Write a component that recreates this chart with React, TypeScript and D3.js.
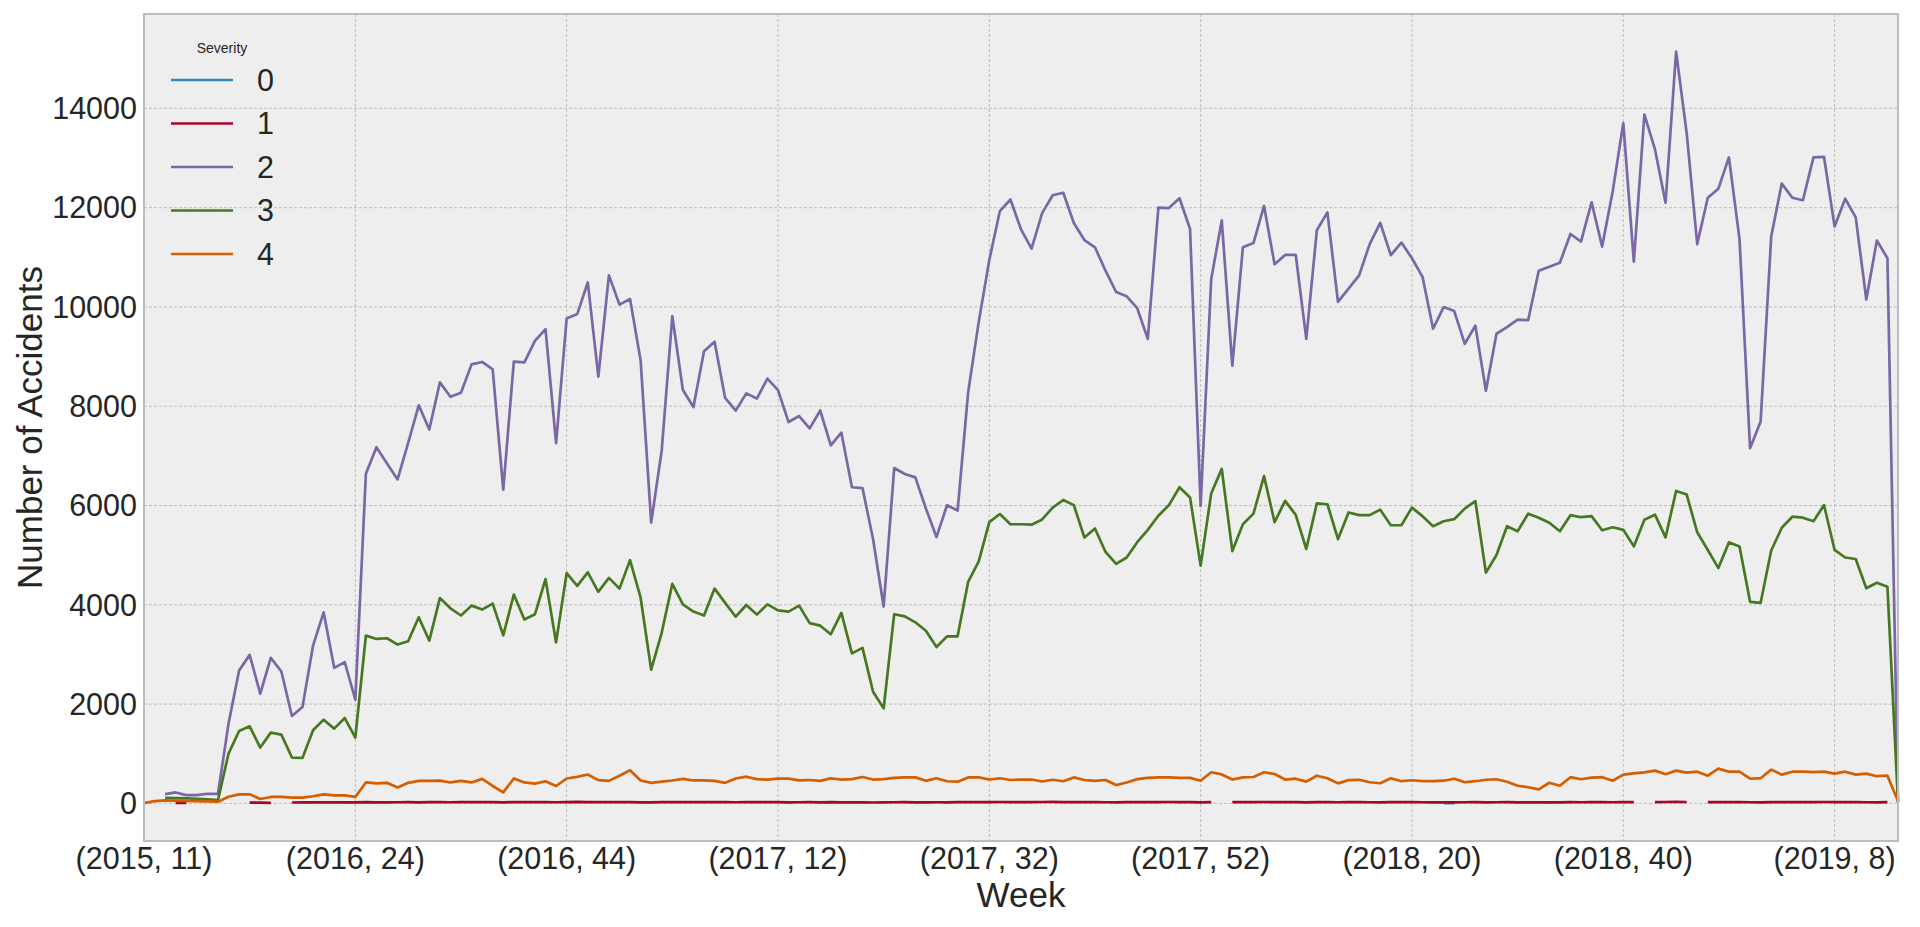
import React, { useEffect, useRef } from 'react';
import * as d3 from 'd3';

type V = number | null;

// x tick labels (every 20th week)
const tickWeeks = ['(2015, 11)', '(2016, 24)', '(2016, 44)', '(2017, 12)', '(2017, 32)', '(2017, 52)', '(2018, 20)', '(2018, 40)', '(2019, 8)'];
const tickEvery = 20;
const nWeeks = 167;

const severities = ['0', '1', '2', '3', '4'];
const colors = ['#348ABD', '#A60628', '#7A68A6', '#467821', '#D55E00'];

const sev0: V[] = [];
sev0[123] = 4;
sev0[124] = 6;

const sev1: V[] = [
 null, null, null, 12, 10, null, null, null, null, null, 14, 16, 12, null, 18, 20, 19, 22, 21, 20,
 22, 24, 21, 20, 23, 25, 22, 24, 26, 23, 25, 24, 27, 26, 22, 28, 25, 24, 26, 23,
 27, 29, 26, 25, 28, 24, 26, 22, 21, 24, 27, 25, 28, 26, 24, 25, 23, 26, 24, 25,
 27, 22, 23, 24, 21, 25, 20, 22, 19, 18, 21, 23, 24, 22, 20, 23, 22, 25, 26, 24,
 27, 28, 26, 25, 27, 28, 29, 27, 26, 25, 24, 23, 22, 24, 25, 26, 27, 28, 27, 26,
 22, 24, null, 25, 26, 27, 28, 26, 25, 24, 22, 27, 26, 23, 25, 24, 23, 22, 26, 25,
 24, 23, 22, 21, 20, 23, 24, 22, 23, 25, 21, 20, 19, 22, 21, 24, 23, 25, 24, 23,
 26, 25, null, 27, 28, 29, 28, null, 26, 27, 25, 26, 23, 22, 25, 26, 27, 26, 27, 28,
 25, 24, 24, 23, 22, 24, null,
];

const sev2: V[] = [
 null, null, 187, 221, 167, 167, 194, 194, 1607, 2678, 2992, 2209, 2932, 2657, 1761, 1941, 3180, 3849, 2731, 2845,
 2088, 6640, 7176, 6848, 6527, 7263, 8019, 7531, 8480, 8190, 8271, 8844, 8892, 8741, 6319, 8900, 8884, 9315, 9554, 7259,
 9769, 9856, 10494, 8597, 10637, 10048, 10159, 8924, 5657, 7115, 9816, 8327, 7984, 9107, 9299, 8167, 7912, 8260, 8155, 8558,
 8326, 7683, 7803, 7554, 7914, 7211, 7468, 6369, 6352, 5322, 3966, 6756, 6635, 6567, 5940, 5365, 6009, 5897, 8284, 9700,
 10945, 11932, 12164, 11563, 11176, 11889, 12249, 12301, 11691, 11348, 11202, 10730, 10301, 10215, 9975, 9357, 12000, 11992, 12189, 11571,
 5992, 10558, 11743, 8816, 11202, 11288, 12035, 10859, 11048, 11048, 9357, 11545, 11906, 10103, 10370, 10637, 11267, 11693, 11043, 11297,
 10982, 10607, 9561, 9998, 9917, 9257, 9622, 8313, 9460, 9592, 9744, 9734, 10729, 10810, 10891, 11470, 11317, 12109, 11216, 12332,
 13703, 10911, 13875, 13175, 12099, 15144, 13500, 11267, 12200, 12383, 13012, 11368, 7156, 7694, 11419, 12485, 12200, 12150, 13012, 13022,
 11622, 12180, 11804, 10150, 11338, 10982, 40,
];

const sev3: V[] = [
 null, null, 114, 107, 100, 94, 80, 67, 1004, 1459, 1553, 1125, 1426, 1386, 924, 917, 1473, 1687, 1506, 1720,
 1326, 3380, 3313, 3327, 3200, 3267, 3749, 3280, 4136, 3930, 3785, 3984, 3904, 4024, 3386, 4207, 3705, 3809, 4518, 3243,
 4637, 4382, 4653, 4263, 4542, 4327, 4900, 4143, 2693, 3442, 4422, 4008, 3864, 3785, 4327, 4040, 3761, 3996, 3803, 4009,
 3889, 3863, 3983, 3631, 3580, 3408, 3837, 3022, 3133, 2249, 1914, 3811, 3768, 3648, 3477, 3150, 3365, 3365, 4464, 4876,
 5665, 5829, 5623, 5623, 5614, 5720, 5958, 6112, 6009, 5356, 5537, 5065, 4824, 4953, 5262, 5511, 5794, 6009, 6369, 6163,
 4790, 6241, 6738, 5082, 5623, 5837, 6593, 5665, 6095, 5811, 5125, 6043, 6026, 5322, 5860, 5806, 5806, 5917, 5603, 5603,
 5958, 5786, 5583, 5684, 5725, 5938, 6090, 4649, 5004, 5583, 5481, 5836, 5755, 5654, 5481, 5806, 5765, 5786, 5501, 5562,
 5511, 5177, 5714, 5816, 5359, 6293, 6222, 5461, 5105, 4740, 5258, 5177, 4060, 4040, 5095, 5552, 5775, 5755, 5684, 6009,
 5105, 4953, 4923, 4334, 4446, 4365, 20,
];

const sev4: V[] = [
 5, 47, 60, 55, 50, 45, 40, 35, 134, 181, 184, 88, 130, 130, 117, 117, 144, 181, 161, 161,
 130, 422, 402, 415, 321, 415, 455, 455, 458, 422, 454, 422, 494, 351, 223, 502, 422, 398, 446, 351,
 502, 534, 582, 470, 454, 558, 669, 462, 414, 438, 462, 494, 462, 462, 454, 414, 502, 538, 489, 481,
 498, 498, 464, 472, 455, 506, 481, 489, 532, 481, 489, 515, 524, 524, 455, 506, 446, 438, 524, 524,
 481, 506, 472, 481, 481, 442, 476, 446, 524, 472, 455, 472, 369, 421, 489, 515, 524, 524, 515, 515,
 455, 627, 584, 481, 524, 532, 627, 592, 481, 498, 438, 558, 506, 403, 469, 477, 426, 406, 508, 447,
 467, 447, 447, 457, 497, 426, 447, 477, 487, 436, 355, 325, 284, 416, 355, 528, 487, 518, 528, 457,
 579, 604, 624, 660, 589, 660, 619, 639, 558, 700, 639, 639, 497, 508, 680, 579, 639, 639, 629, 639,
 599, 639, 579, 599, 548, 558, 50,
];

const series: V[][] = [sev0, sev1, sev2, sev3, sev4];
const yTicks = [0, 2000, 4000, 6000, 8000, 10000, 12000, 14000];

const W = 1920;
const H = 927;
const margin = { left: 144, right: 22, top: 14, bottom: 86 };
const FONT = '"Liberation Sans", Arial, sans-serif';
const INK = '#262626';

export default function App() {
 const svgRef = useRef<SVGSVGElement>(null);

 useEffect(() => {
 if (!svgRef.current) return;
 const svg = d3.select(svgRef.current);
 svg.selectAll('*').remove();

 const x0 = margin.left;
 const x1 = W - margin.right;
 const y0 = H - margin.bottom;
 const y1 = margin.top;

 const all = series.flatMap(s => s.filter((v): v is number => v != null));
 const lo = Math.min(0, d3.min(all) ?? 0);
 const hi = d3.max(all) ?? 1;
 const pad = (hi - lo) * 0.05;

 const x = d3.scaleLinear().domain([0, nWeeks - 1]).range([x0, x1]);
 const y = d3.scaleLinear().domain([lo - pad, hi + pad]).range([y0, y1]);

 // background
 svg.append('rect').attr('x', x0).attr('y', y1).attr('width', x1 - x0).attr('height', y0 - y1).attr('fill', '#eeeeee');

 // grid
 const grid = svg.append('g').attr('stroke', '#b2b2b2').attr('stroke-width', 0.8).attr('stroke-dasharray', '3,2');
 grid.selectAll('line.h').data(yTicks).enter().append('line')
 .attr('x1', x0).attr('x2', x1).attr('y1', d => y(d)).attr('y2', d => y(d));
 grid.selectAll('line.v').data(tickWeeks).enter().append('line')
 .attr('x1', (_, i) => x(i * tickEvery)).attr('x2', (_, i) => x(i * tickEvery)).attr('y1', y1).attr('y2', y0);

 // lines
 const line = d3.line<V>()
 .defined(d => d != null)
 .x((_, i) => x(i))
 .y(d => y(d as number));

 series.forEach((s, k) => {
 const full: V[] = d3.range(nWeeks).map(i => (s[i] === undefined ? null : s[i]));
 svg.append('path').datum(full)
 .attr('d', line)
 .attr('fill', 'none')
 .attr('stroke', colors[k])
 .attr('stroke-width', 2.7)
 .attr('stroke-linejoin', 'round');
 });

 // frame
 svg.append('rect').attr('x', x0).attr('y', y1).attr('width', x1 - x0).attr('height', y0 - y1)
 .attr('fill', 'none').attr('stroke', '#bcbcbc').attr('stroke-width', 2);

 // tick labels
 svg.selectAll('text.yt').data(yTicks).enter().append('text')
 .attr('x', x0 - 7).attr('y', d => y(d)).attr('dy', '0.35em')
 .attr('text-anchor', 'end').attr('font-size', 30.5).attr('font-family', FONT).attr('fill', INK)
 .text(d => String(d));
 svg.selectAll('text.xt').data(tickWeeks).enter().append('text')
 .attr('x', (_, i) => x(i * tickEvery)).attr('y', 869)
 .attr('text-anchor', 'middle').attr('font-size', 30.5).attr('font-family', FONT).attr('fill', INK)
 .text(d => d);

 // axis titles
 svg.append('text').attr('x', (x0 + x1) / 2).attr('y', 907).attr('text-anchor', 'middle')
 .attr('font-size', 35).attr('font-family', FONT).attr('fill', INK).text('Week');
 svg.append('text').attr('transform', `translate(42,${(y0 + y1) / 2}) rotate(-90)`).attr('text-anchor', 'middle')
 .attr('font-size', 35).attr('font-family', FONT).attr('fill', INK).text('Number of Accidents');

 // legend
 const lg = svg.append('g');
 lg.append('text').attr('x', 222).attr('y', 53).attr('text-anchor', 'middle')
 .attr('font-size', 14).attr('font-family', FONT).attr('fill', INK).text('Severity');
 severities.forEach((s, k) => {
 const ly = 80 + k * 43.5;
 lg.append('line').attr('x1', 171).attr('x2', 233).attr('y1', ly).attr('y2', ly)
 .attr('stroke', colors[k]).attr('stroke-width', 2.7);
 lg.append('text').attr('x', 257).attr('y', ly).attr('dy', '0.35em')
 .attr('font-size', 30.5).attr('font-family', FONT).attr('fill', INK).text(s);
 });
 }, []);

 return (
 <div style={{ position: 'absolute', left: 0, top: 0, width: W, height: H, background: '#fff' }}>
 <svg ref={svgRef} width={W} height={H} viewBox={`0 0 ${W} ${H}`} />
 </div>
 );
}
